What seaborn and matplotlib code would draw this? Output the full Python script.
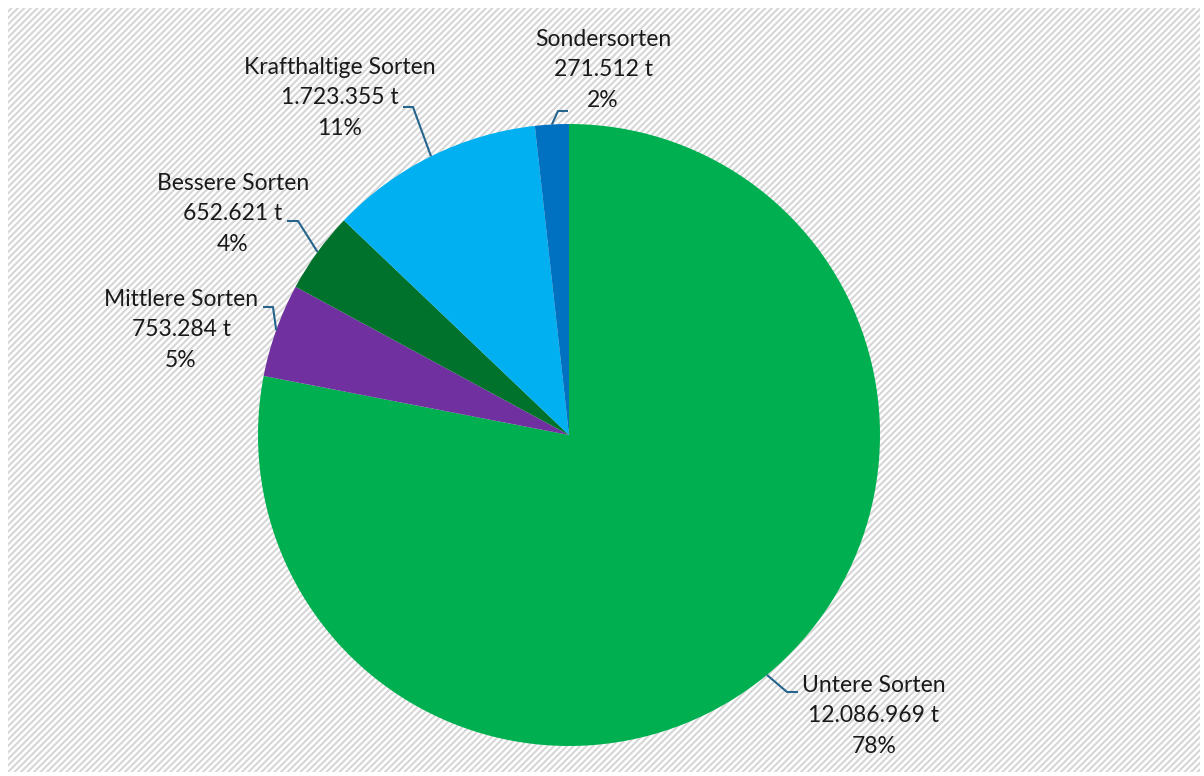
import numpy as np
import matplotlib
matplotlib.use("Agg")
import matplotlib.pyplot as plt
from matplotlib.collections import LineCollection
from matplotlib.patches import Rectangle
import seaborn as sns

# Sortenanteile (Tonnen)
categories = ["Untere Sorten", "Mittlere Sorten", "Bessere Sorten",
              "Krafthaltige Sorten", "Sondersorten"]
tonnes = [12086969, 753284, 652621, 1723355, 271512]
colors = ["#00B050", "#7030A0", "#00722B", "#00B0F0", "#0070C0"]

sns.set_theme(style="white")
plt.rcParams["font.family"] = ["Lato", "DejaVu Sans"]

W, H = 1204, 776
fig = plt.figure(figsize=(W / 100, H / 100), dpi=100)
ax = fig.add_axes([0, 0, 1, 1])

# hatched chart background
bg = Rectangle((8, 4), W - 12, H - 12, facecolor="white", edgecolor="none", zorder=0)
ax.add_patch(bg)
step = 6.5
cs = np.arange(-H, W + H, step)
segs = [[(c, 0), (c + H, H)] for c in cs]
lc = LineCollection(segs, colors="#d6d6d6", linewidths=1.5, zorder=0.5)
ax.add_collection(lc)
lc.set_clip_path(bg)

cx, cy, r = 569, H - 435, 311
wedges, _ = ax.pie(tonnes, colors=colors, startangle=90, counterclock=False,
                   center=(cx, cy), radius=r, frame=True,
                   wedgeprops=dict(linewidth=0, zorder=2))
ax.set_xlim(0, W)
ax.set_ylim(0, H)
ax.set_aspect("auto")
ax.axis("off")

total = sum(tonnes)

def fmt_t(v):
    return f"{v:,}".replace(",", ".") + " t"

# label block centres and leader elbows/ends (pixel layout, y from top)
label_pos = [(874, 716), (181, 330), (233, 214), (340, 98), (603, 70)]
elbows = [((787, 692), (798, 692)), ((273, 307), (263, 307)),
          ((298, 221), (287, 221)), ((413, 107), (403, 107)),
          ((558, 111), (568, 111))]

for w, name, v, (lx, ly), (e1, e2) in zip(wedges, categories, tonnes, label_pos, elbows):
    pct = v / total * 100
    txt = f"{name}\n{fmt_t(v)}\n{pct:.0f}%"
    ax.text(lx, H - ly, txt, ha="center", va="center", ma="center",
            fontsize=16.5, color="#1a1a1a", linespacing=1.58, zorder=4)
    mid = np.deg2rad((w.theta1 + w.theta2) / 2)
    sx, sy = cx + r * np.cos(mid), cy + r * np.sin(mid)
    ax.plot([sx, e1[0], e2[0]], [sy, H - e1[1], H - e2[1]],
            color="#25648C", linewidth=1.5, zorder=3, solid_capstyle="butt")

fig.savefig("out.png", dpi=100, facecolor="white")
